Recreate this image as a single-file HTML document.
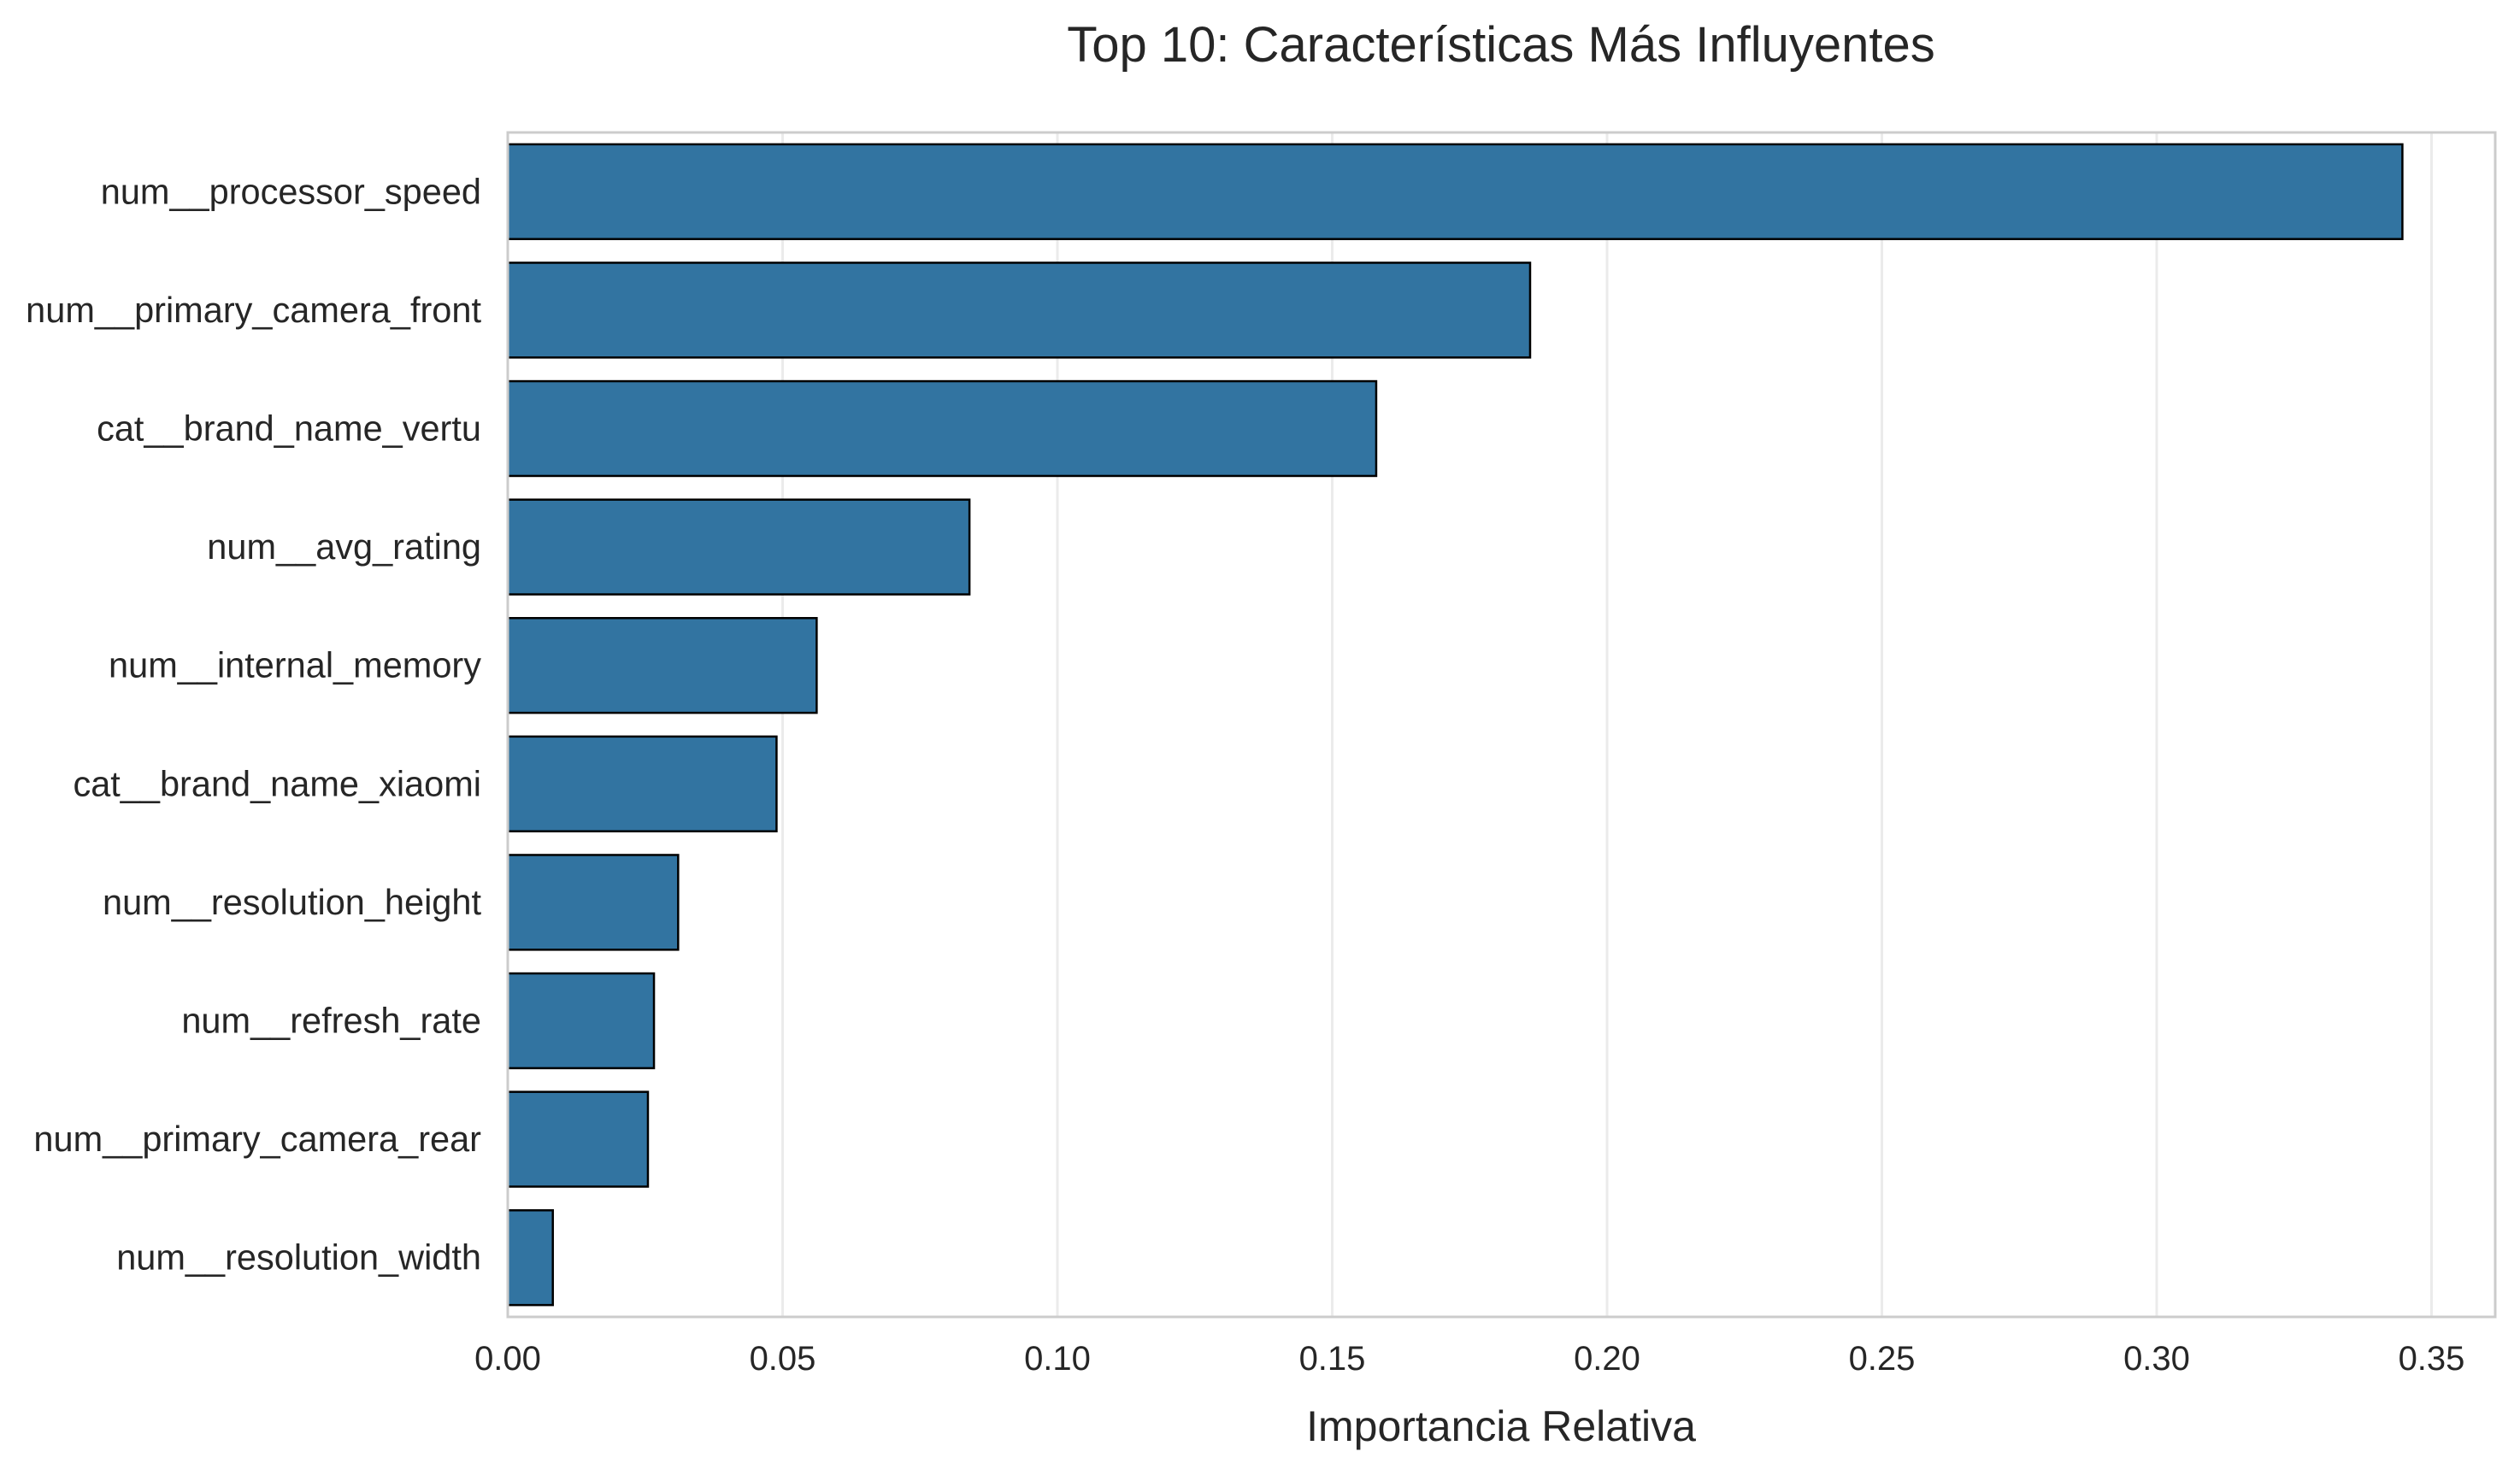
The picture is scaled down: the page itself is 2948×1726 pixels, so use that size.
<!DOCTYPE html>
<html><head><meta charset="utf-8"><style>
html,body{margin:0;padding:0;background:#fff;}
svg{display:block;font-family:"Liberation Sans",Arial,sans-serif;}
</style></head><body>
<svg id="chart" width="2948" height="1726" viewBox="0 0 2948 1726" xmlns="http://www.w3.org/2000/svg">
<rect x="0" y="0" width="2948" height="1726" fill="#fff"/>
<text x="1756" y="72" font-size="58" fill="#262626" text-anchor="middle">Top 10: Características Más Influyentes</text>
<g id="grid"></g>
<g id="bars"></g>
<rect x="594" y="155" width="2325" height="1386" fill="none" stroke="#cccccc" stroke-width="3"/>
<g id="yticks"></g>
<g id="xticks"></g>
<text x="1756" y="1686" font-size="50" fill="#262626" text-anchor="middle">Importancia Relativa</text>
</svg>
<script>
const categories = ["num__processor_speed","num__primary_camera_front","cat__brand_name_vertu","num__avg_rating","num__internal_memory","cat__brand_name_xiaomi","num__resolution_height","num__refresh_rate","num__primary_camera_rear","num__resolution_width"];
const values = [0.3447, 0.186, 0.158, 0.084, 0.0562, 0.0489, 0.031, 0.0266, 0.0255, 0.0082];
const xTicks = [0, 0.05, 0.10, 0.15, 0.20, 0.25, 0.30, 0.35];
const xTickLabels = ["0.00","0.05","0.10","0.15","0.20","0.25","0.30","0.35"];

const SVGNS = "http://www.w3.org/2000/svg";
const plotLeft = 594, plotRight = 2919, plotTop = 155, plotBottom = 1541;
const xMaxVal = (plotRight - plotLeft) / 6430;
function xScale(v){ return plotLeft + v / xMaxVal * (plotRight - plotLeft); }
const bandH = (plotBottom - plotTop) / categories.length;
function yCenter(i){ return plotTop + bandH * (i + 0.5); }

const gridG = document.getElementById('grid');
const xtG = document.getElementById('xticks');
xTicks.forEach((t, i) => {
  const x = xScale(t);
  const l = document.createElementNS(SVGNS, 'line');
  
  
  l.setAttribute('x1', x); l.setAttribute('x2', x);
  l.setAttribute('y1', plotTop); l.setAttribute('y2', plotBottom);
  l.setAttribute('stroke', '#ebebeb'); l.setAttribute('stroke-width', '3');
  gridG.appendChild(l);
  const tx = document.createElementNS(SVGNS, 'text');
  
  
  tx.setAttribute('x', x); tx.setAttribute('y', 1603);
  tx.setAttribute('font-size', '40'); tx.setAttribute('fill', '#262626');
  tx.setAttribute('text-anchor', 'middle');
  tx.textContent = xTickLabels[i];
  xtG.appendChild(tx);
});

const barsG = document.getElementById('bars');
const ytG = document.getElementById('yticks');
categories.forEach((c, i) => {
  const cy = yCenter(i);
  const h = bandH * 0.8;
  const r = document.createElementNS(SVGNS, 'rect');
  
  
  r.setAttribute('x', xScale(0));
  r.setAttribute('y', cy - h / 2);
  r.setAttribute('width', xScale(values[i]) - xScale(0));
  r.setAttribute('height', h);
  r.setAttribute('fill', '#3274a1');
  r.setAttribute('stroke', '#000'); r.setAttribute('stroke-width', '2.5');
  barsG.appendChild(r);
  const t = document.createElementNS(SVGNS, 'text');
  
  
  t.setAttribute('x', 563); t.setAttribute('y', cy + 14);
  t.setAttribute('font-size', '41.5'); t.setAttribute('fill', '#262626');
  t.setAttribute('text-anchor', 'end');
  t.textContent = c;
  ytG.appendChild(t);
});
</script>
</body></html>
